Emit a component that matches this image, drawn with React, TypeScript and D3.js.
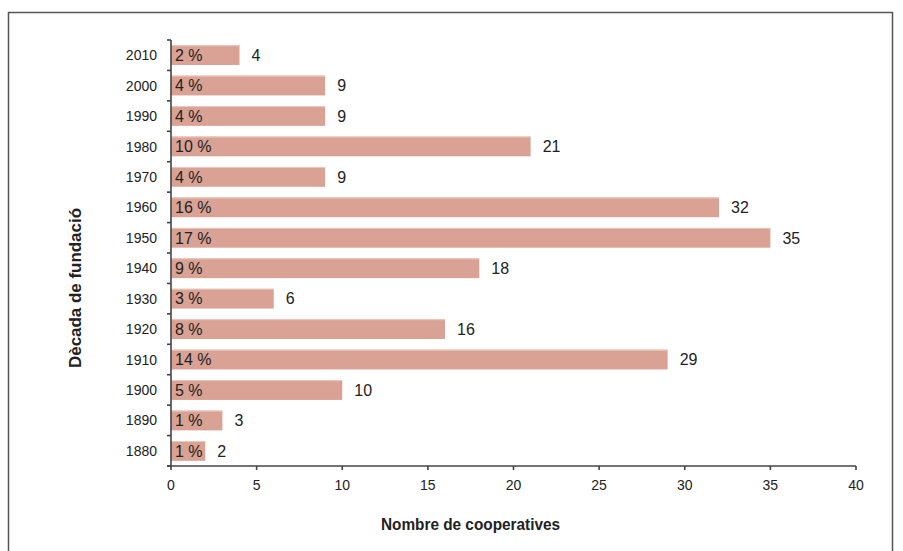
import React, { useRef, useEffect } from 'react';
import * as d3 from 'd3';

const decades = ['2010', '2000', '1990', '1980', '1970', '1960', '1950', '1940', '1930', '1920', '1910', '1900', '1890', '1880'];
const counts = [4, 9, 9, 21, 9, 32, 35, 18, 6, 16, 29, 10, 3, 2];
const percents = ['2 %', '4 %', '4 %', '10 %', '4 %', '16 %', '17 %', '9 %', '3 %', '8 %', '14 %', '5 %', '1 %', '1 %'];
const xTicks = [0, 5, 10, 15, 20, 25, 30, 35, 40];

const FONT = "'Liberation Sans', Arial, Helvetica, sans-serif";

const App: React.FC = () => {
  const svgRef = useRef<SVGSVGElement>(null);
  const width = 903;
  const height = 551;

  useEffect(() => {
    if (!svgRef.current) return;
    const svg = d3.select(svgRef.current);
    svg.selectAll('*').remove();

    // frame
    svg
      .append('rect')
      .attr('x', 8.5)
      .attr('y', 12.5)
      .attr('width', 884)
      .attr('height', 560)
      .attr('fill', 'white')
      .attr('stroke', '#555')
      .attr('stroke-width', 1.5);

    const x = d3.scaleLinear().domain([0, 40]).range([171, 856]);
    const y = d3.scaleBand().domain(decades).range([40, 466]).paddingInner(0.35).paddingOuter(0.17);
    const band = d3.scaleBand().domain(decades).range([40, 466]);

    const axisColor = '#444';

    // bars
    const g = svg.append('g');
    g.selectAll('rect.bar')
      .data(decades)
      .enter()
      .append('rect')
      .attr('class', 'bar')
      .attr('x', x(0))
      .attr('y', (d) => y(d)!)
      .attr('width', (d, i) => x(counts[i]) - x(0))
      .attr('height', y.bandwidth())
      .attr('fill', '#d9a294');

    // top highlight
    g.selectAll('line.hl')
      .data(decades)
      .enter()
      .append('line')
      .attr('class', 'hl')
      .attr('x1', x(0))
      .attr('x2', (d, i) => x(counts[i]))
      .attr('y1', (d) => y(d)! + 0.5)
      .attr('y2', (d) => y(d)! + 0.5)
      .attr('stroke', '#ecc8bd')
      .attr('stroke-width', 1);

    // percent labels
    g.selectAll('text.pct')
      .data(decades)
      .enter()
      .append('text')
      .attr('class', 'pct')
      .attr('x', x(0) + 4)
      .attr('y', (d) => y(d)! + y.bandwidth() / 2)
      .attr('dy', '0.36em')
      .attr('font-family', FONT)
      .attr('font-size', 16)
      .attr('fill', '#222')
      .text((d, i) => percents[i]);

    // value labels
    g.selectAll('text.val')
      .data(decades)
      .enter()
      .append('text')
      .attr('class', 'val')
      .attr('x', (d, i) => x(counts[i]) + 12)
      .attr('y', (d) => y(d)! + y.bandwidth() / 2)
      .attr('dy', '0.36em')
      .attr('font-family', FONT)
      .attr('font-size', 16)
      .attr('fill', '#222')
      .text((d, i) => counts[i]);

    // y axis
    svg
      .append('line')
      .attr('x1', x(0))
      .attr('x2', x(0))
      .attr('y1', 40)
      .attr('y2', 466)
      .attr('stroke', axisColor)
      .attr('stroke-width', 1.6);
    const yTickPos = decades.map((d) => band(d)!).concat([466]);
    svg
      .selectAll('line.ytick')
      .data(yTickPos)
      .enter()
      .append('line')
      .attr('class', 'ytick')
      .attr('x1', x(0) - 4)
      .attr('x2', x(0))
      .attr('y1', (d) => d)
      .attr('y2', (d) => d)
      .attr('stroke', axisColor)
      .attr('stroke-width', 1.6);
    svg
      .selectAll('text.ylab')
      .data(decades)
      .enter()
      .append('text')
      .attr('class', 'ylab')
      .attr('x', 157)
      .attr('y', (d) => band(d)! + band.bandwidth() / 2)
      .attr('dy', '0.36em')
      .attr('text-anchor', 'end')
      .attr('font-family', FONT)
      .attr('font-size', 14)
      .attr('fill', '#222')
      .text((d) => d);

    // x axis
    svg
      .append('line')
      .attr('x1', x(0) - 4)
      .attr('x2', x(40))
      .attr('y1', 466)
      .attr('y2', 466)
      .attr('stroke', axisColor)
      .attr('stroke-width', 1.6);
    svg
      .selectAll('line.xtick')
      .data(xTicks)
      .enter()
      .append('line')
      .attr('class', 'xtick')
      .attr('x1', (d) => x(d))
      .attr('x2', (d) => x(d))
      .attr('y1', 466)
      .attr('y2', 470)
      .attr('stroke', axisColor)
      .attr('stroke-width', 1.6);
    svg
      .selectAll('text.xlab')
      .data(xTicks)
      .enter()
      .append('text')
      .attr('class', 'xlab')
      .attr('x', (d) => x(d))
      .attr('y', 485)
      .attr('dy', '0.36em')
      .attr('text-anchor', 'middle')
      .attr('font-family', FONT)
      .attr('font-size', 14)
      .attr('fill', '#222')
      .text((d) => d);

    // axis titles
    svg
      .append('text')
      .attr('x', 381)
      .attr('y', 524)
      .attr('dy', '0.36em')
      .attr('font-family', FONT)
      .attr('font-size', 16)
      .attr('font-weight', 'bold')
      .attr('fill', '#222')
      .attr('textLength', 179)
      .attr('lengthAdjust', 'spacingAndGlyphs')
      .text('Nombre de cooperatives');
    svg
      .append('text')
      .attr('transform', 'translate(75,368) rotate(-90)')
      .attr('dy', '0.36em')
      .attr('font-family', FONT)
      .attr('font-size', 16)
      .attr('font-weight', 'bold')
      .attr('fill', '#222')
      .attr('textLength', 160)
      .attr('lengthAdjust', 'spacingAndGlyphs')
      .text('Dècada de fundació');
  }, []);

  return (
    <svg
      ref={svgRef}
      width={width}
      height={height}
      style={{ position: 'absolute', left: 0, top: 0, display: 'block' }}
    />
  );
};

export default App;
